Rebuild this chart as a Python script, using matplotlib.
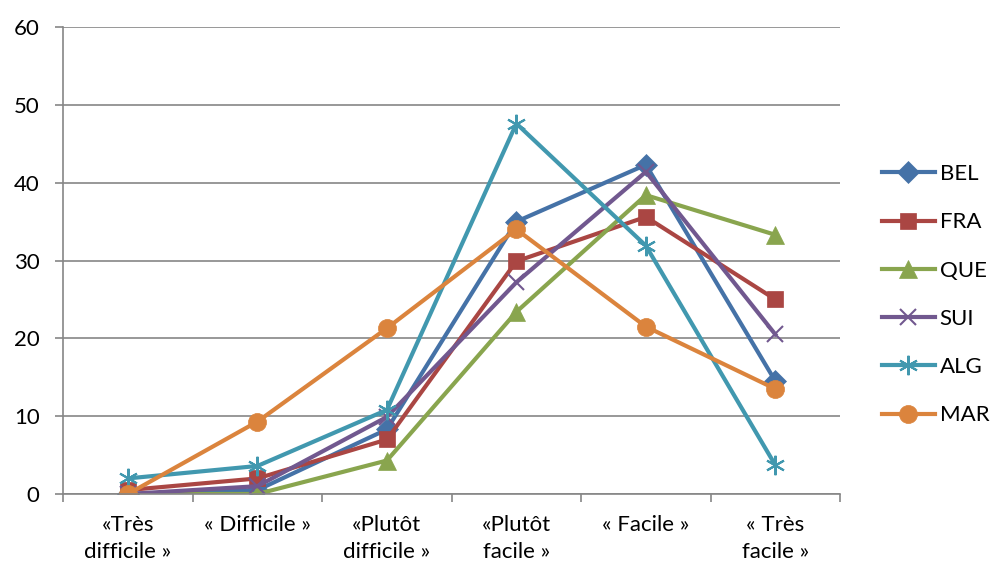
import numpy as np
import matplotlib
matplotlib.use("Agg")
from matplotlib import pyplot as plt

categories = ["«Très\ndifficile »", "« Difficile »", "«Plutôt\ndifficile »",
              "«Plutôt\nfacile »", "« Facile »", "« Très\nfacile »"]

bel = [0.0, 0.5, 8.3, 35.0, 42.3, 14.5]
fra = [0.5, 2.0, 7.0, 29.9, 35.6, 25.0]
que = [0.0, 0.0, 4.3, 23.4, 38.4, 33.3]
sui = [0.0, 1.0, 9.9, 27.2, 41.4, 20.5]
alg = [2.0, 3.6, 10.8, 47.6, 31.9, 3.7]
mar = [0.0, 9.3, 21.3, 34.0, 21.5, 13.5]

series = [
    ("BEL", bel, "#4572A7", "D", 11),
    ("FRA", fra, "#AA4643", "s", 12),
    ("QUE", que, "#89A54E", "^", 13),
    ("SUI", sui, "#71588F", "x", 11),
    ("ALG", alg, "#4198AF", (6, 2, 0), 14),
    ("MAR", mar, "#DB843D", "o", 13),
]

plt.rcParams['font.family'] = ['Lato', 'DejaVu Sans']

fig = plt.figure(figsize=(9.93, 5.63), dpi=100)
ax = fig.add_axes([0.0637, 0.1226, 0.7823, 0.8294])

x = np.arange(len(categories))
for name, vals, col, mk, ms in series:
    thin = mk == "x" or isinstance(mk, tuple)
    ax.plot(x, vals, color=col, lw=3, marker=mk, ms=ms, label=name,
            markeredgewidth=1.5 if thin else 0.5,
            markeredgecolor=col, markerfacecolor=col)

ax.set_xlim(-0.5, 5.5)
ax.set_ylim(0, 60)
ax.set_yticks(np.arange(0, 61, 10))
ax.yaxis.grid(True, color="#868686", lw=1.2)
ax.set_axisbelow(True)

ax.set_xticks(x)
ax.set_xticklabels(categories, fontsize=16, va="top", linespacing=1.45)
ax.tick_params(axis="x", which="major", length=0, pad=15)
ax.set_xticks(np.arange(-0.5, 6.0, 1), minor=True)
ax.tick_params(axis="x", which="minor", length=6, color="#868686", width=1.2)
ax.tick_params(axis="y", length=6, color="#868686", width=1.2, labelsize=16, pad=11)

for side in ("top", "right"):
    ax.spines[side].set_visible(False)
for side in ("left", "bottom"):
    ax.spines[side].set_color("#868686")
    ax.spines[side].set_linewidth(1.2)

leg = fig.legend(loc="upper left", bbox_to_anchor=(0.879, 0.724), frameon=False,
                 fontsize=16, handlelength=2.4, handletextpad=0.2,
                 labelspacing=1.27, borderaxespad=0)

fig.savefig("out.png", dpi=100)
